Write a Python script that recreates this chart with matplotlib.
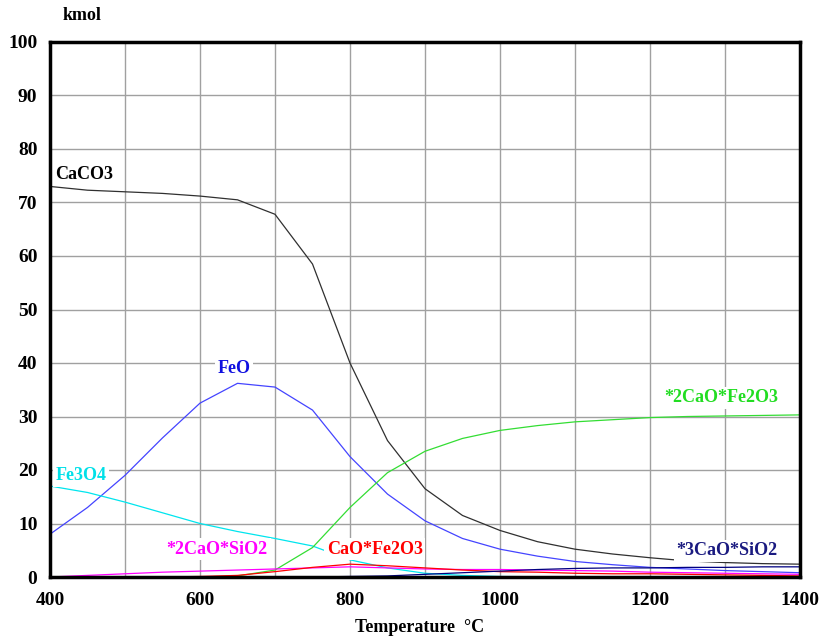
import numpy as np
import matplotlib.pyplot as plt

# temperature grid, degC
temp = [400, 450, 500, 550, 600, 650, 700, 750, 800, 850, 900, 950, 1000,
        1050, 1100, 1150, 1200, 1250, 1300, 1350, 1400]

caco3 = [73.0, 72.3, 72.0, 71.7, 71.2, 70.5, 67.8, 58.5, 40.0, 25.5, 16.5, 11.5, 8.7,
         6.6, 5.2, 4.3, 3.6, 3.0, 2.7, 2.5, 2.4]
feo = [8.0, 13.0, 19.0, 26.0, 32.5, 36.2, 35.5, 31.2, 22.5, 15.5, 10.5, 7.2, 5.2,
       3.9, 2.9, 2.3, 1.8, 1.5, 1.2, 1.0, 0.8]
fe3o4 = [17.0, 15.8, 14.0, 12.0, 10.0, 8.5, 7.2, 5.8, 3.2, 1.7, 0.7, 0.3, 0.1,
         0.05, 0.0, 0.0, 0.0, 0.0, 0.0, 0.0, 0.0]
c2f = [0.0, 0.0, 0.0, 0.0, 0.0, 0.2, 1.3, 5.5, 13.0, 19.5, 23.5, 25.9, 27.4,
       28.3, 29.0, 29.4, 29.8, 30.0, 30.1, 30.2, 30.3]
c2s = [0.0, 0.3, 0.6, 0.9, 1.1, 1.3, 1.5, 1.7, 1.9, 1.7, 1.5, 1.4, 1.4,
       1.3, 1.2, 1.1, 0.9, 0.8, 0.7, 0.6, 0.5]
cf = [0.0, 0.0, 0.0, 0.0, 0.1, 0.3, 1.0, 1.8, 2.4, 2.1, 1.7, 1.3, 1.0,
      0.9, 0.7, 0.6, 0.6, 0.5, 0.4, 0.3, 0.2]
c3s = [0.0, 0.0, 0.0, 0.0, 0.0, 0.0, 0.0, 0.0, 0.1, 0.2, 0.5, 0.8, 1.1,
       1.4, 1.6, 1.7, 1.7, 1.8, 1.8, 1.9, 1.9]

series = [
    ('CaCO3', caco3, '#303030', 'black', 407, 75.3, 'left'),
    ('FeO', feo, '#4444ff', '#1010e0', 645, 39.0, 'center'),
    ('Fe3O4', fe3o4, '#00e5ee', '#00e0e8', 407, 19.0, 'left'),
    ('*2CaO*Fe2O3', c2f, '#33dd33', '#22dd22', 1295, 33.5, 'center'),
    ('*2CaO*SiO2', c2s, '#ff00ff', '#ff00ff', 623, 5.2, 'center'),
    ('CaO*Fe2O3', cf, '#ff0000', '#ff0000', 833, 5.2, 'center'),
    ('*3CaO*SiO2', c3s, '#000080', '#1a1a80', 1303, 4.9, 'center'),
]

plt.rcParams['font.family'] = ['Liberation Serif', 'DejaVu Serif']

fig = plt.figure(figsize=(8.26, 6.37), dpi=100)
ax = fig.add_axes([50/826, 60/637, 750/826, 535/637])

for name, vals, lc, tc, tx, ty, ha in series:
    ax.plot(temp, vals, color=lc, linewidth=0.9, zorder=3)
for name, vals, lc, tc, tx, ty, ha in series:
    ax.text(tx, ty, name, color=tc, fontsize=13, fontweight='bold', ha=ha, va='center',
            zorder=5, bbox=dict(facecolor='white', edgecolor='none', pad=2))

ax.set_xlim(400, 1400)
ax.set_ylim(0, 100)
ax.set_xticks(np.arange(400, 1401, 100))
ax.set_xticklabels(['400', '', '600', '', '800', '', '1000', '', '1200', '', '1400'])
ax.set_yticks(np.arange(0, 101, 10))
ax.tick_params(length=0, labelsize=14)
ax.tick_params(axis='y', pad=9)
ax.tick_params(axis='x', pad=11)
for lbl in ax.get_xticklabels() + ax.get_yticklabels():
    lbl.set_fontweight('bold')
ax.grid(True, color='#a0a0a0', linewidth=1, zorder=1)
ax.set_axisbelow(True)
for sp in ax.spines.values():
    sp.set_linewidth(2.5)
    sp.set_zorder(6)

fig.text(63/826, 1 - 15/637, 'kmol', fontsize=13, fontweight='bold', va='center')
fig.text(420/826, 1 - 627/637, 'Temperature  \u00b0C', fontsize=13, fontweight='bold',
         ha='center', va='center')

fig.savefig('out.png', dpi=100)
